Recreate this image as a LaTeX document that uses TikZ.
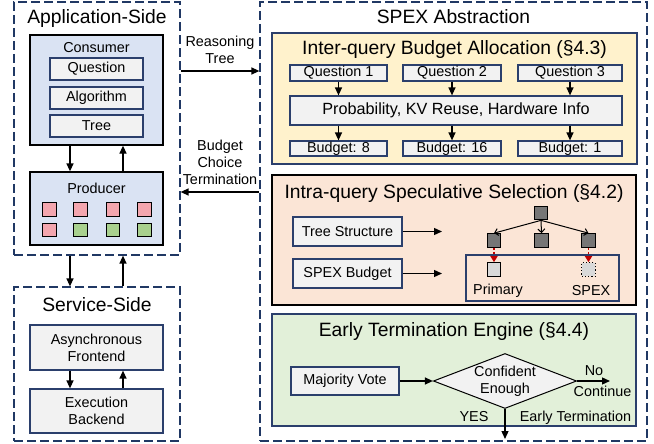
\documentclass[tikz,border=0pt]{standalone}
\usepackage{fontspec}
\setmainfont{Liberation Sans}
\usetikzlibrary{arrows.meta,shapes.geometric}
\definecolor{navyLine}{HTML}{203864}
\definecolor{boxLine}{HTML}{2B3F6C}
\definecolor{blueFill}{HTML}{DAE3F3}
\definecolor{grayFill}{HTML}{F2F2F2}
\definecolor{yellowFill}{HTML}{FFF2CC}
\definecolor{peachFill}{HTML}{FBE5D6}
\definecolor{greenFill}{HTML}{E2F0D9}
\definecolor{pinkSq}{HTML}{F4A6AE}
\definecolor{greenSq}{HTML}{A9D18E}
\definecolor{darkSq}{HTML}{767676}
\definecolor{lightSq}{HTML}{D9D9D9}
\definecolor{redArrow}{HTML}{C00000}

\begin{document}
\begin{tikzpicture}[x=1pt, y=-1pt,
        every node/.style={font=\fontsize{14.4}{16.8}\selectfont, inner sep=0pt}]
        \tikzstyle{groupBox} = [draw=navyLine, line width=1.2, dash pattern=on 9pt off 4pt]
        \tikzstyle{titleText} = [font=\fontsize{19.3}{22}\selectfont, anchor=base]
        \tikzstyle{plainText} = [anchor=base]
        \tikzstyle{outerBox} = [draw=black, line width=1.3, fill=blueFill]
        \tikzstyle{innerBox} = [draw=boxLine, line width=1.2, fill=grayFill, align=center]
        \tikzstyle{cell} = [draw=black, line width=1.2, minimum size=13.5]
        \tikzstyle{arrowEdge} = [draw=black, line width=1.3, -{Triangle[length=8pt,width=7pt]}]
        \tikzstyle{treeEdge} = [draw=black, line width=1, -{Straight Barb[length=3.5pt,width=7pt]}]
        \tikzstyle{specEdge} = [draw=redArrow, line width=1.5, dash pattern=on 2.5pt off 1.5pt, -{Triangle[length=6pt,width=7pt]}]
        \useasboundingbox (0,0) rectangle (654,444);

        % application side
        \node[groupBox, minimum width=166, minimum height=253] (app) at (97,128.5) {};
        \node[titleText] at (97,24) {Application-Side};
        \node[outerBox, minimum width=133, minimum height=110] (cons) at (96.5,90) {};
        \node[plainText] at (96.5,53) {Consumer};
        \node[innerBox, minimum width=93, minimum height=22] (quest) at (96.5,69) {Question};
        \node[innerBox, minimum width=93, minimum height=22] (algo) at (96.5,98) {Algorithm};
        \node[innerBox, minimum width=93, minimum height=22] (tree) at (96.5,126) {Tree};
        \node[outerBox, minimum width=133, minimum height=73] (prod) at (96.5,208.5) {};
        \node[plainText] at (96.5,193) {Producer};
        \foreach \x/\c in {49.5/pinkSq, 80.5/pinkSq, 113/pinkSq, 144.5/pinkSq}
            \node[cell, fill=\c] at (\x,209.5) {};
        \foreach \x/\c in {49.5/pinkSq, 80.5/greenSq, 113/greenSq, 144.5/greenSq}
            \node[cell, fill=\c] at (\x,230) {};
        \draw[arrowEdge] ([xshift=-26.5pt]cons.south) -- ([xshift=-26.5pt]prod.north);
        \draw[arrowEdge] ([xshift=26.5pt]prod.north) -- ([xshift=26.5pt]cons.south);

        % service side
        \node[groupBox, minimum width=166, minimum height=154] (serv) at (97,364) {};
        \node[titleText] at (97,311.5) {Service-Side};
        \node[innerBox, minimum width=133, minimum height=45] (front) at (96.5,347.5) {Asynchronous\\Frontend};
        \node[innerBox, minimum width=133, minimum height=44] (back) at (96.5,411) {Execution\\Backend};
        \draw[arrowEdge] ([xshift=-27pt]app.south) -- ([xshift=-27pt]serv.north);
        \draw[arrowEdge] ([xshift=26pt]serv.north) -- ([xshift=26pt]app.south);
        \draw[arrowEdge] ([xshift=-26.5pt]front.south) -- ([xshift=-26.5pt]back.north);
        \draw[arrowEdge] ([xshift=26.5pt]back.north) -- ([xshift=26.5pt]front.south);

        % spex abstraction
        \node[groupBox, minimum width=387, minimum height=439] (spex) at (453.5,221.5) {};
        \node[titleText] at (453.5,24) {SPEX Abstraction};

        \coordinate (rtLevel) at (0,71);
        \coordinate (bcLevel) at (0,192);
        \node[align=center] at (220,49.5) {Reasoning\\Tree};
        \node[align=center, font=\fontsize{14.4}{17}\selectfont] at (220,162) {Budget\\Choice\\Termination};
        \draw[arrowEdge] (app.east |- rtLevel) -- (spex.west |- rtLevel);
        \draw[arrowEdge] (spex.west |- bcLevel) -- (app.east |- bcLevel);

        % inter-query
        \node[draw=boxLine, line width=1.2, fill=yellowFill, minimum width=365, minimum height=131] (inter) at (454.5,98.5) {};
        \node[titleText] at (454.5,55) {Inter-query Budget Allocation (§4.3)};
        \node[innerBox, minimum width=97, minimum height=16] (q1) at (338.5,73) {Question 1};
        \node[innerBox, minimum width=98, minimum height=16] (q2) at (452,73) {Question 2};
        \node[innerBox, minimum width=104, minimum height=16] (q3) at (570,73) {Question 3};
        \node[innerBox, minimum width=332, minimum height=29, font=\fontsize{16.2}{19}\selectfont] (prob) at (456,110.5) {Probability, KV Reuse, Hardware Info};
        \node[innerBox, minimum width=97, minimum height=15] (b1) at (338.5,148.5) {Budget: 8};
        \node[innerBox, minimum width=98, minimum height=15] (b2) at (452,148.5) {Budget: 16};
        \node[innerBox, minimum width=104, minimum height=15] (b3) at (570,148.5) {Budget: 1};
        \foreach \i in {1,2,3} {
            \draw[arrowEdge] (q\i) -- (q\i |- prob.north);
            \draw[arrowEdge] (q\i |- prob.south) -- (b\i);
        }

        % intra-query
        \node[draw=black, line width=1.3, fill=peachFill, minimum width=364, minimum height=130] (intra) at (454,240) {};
        \node[titleText] at (454,198.3) {Intra-query Speculative Selection (§4.2)};
        \node[innerBox, minimum width=109, minimum height=29] (tstruct) at (347.5,231.5) {Tree Structure};
        \node[innerBox, minimum width=109, minimum height=29] (sbudget) at (347.5,273.5) {SPEX Budget};
        \coordinate (tsEnd) at (442,231.5);
        \coordinate (sbEnd) at (442,273.5);
        \draw[arrowEdge] (tstruct) -- (tsEnd);
        \draw[arrowEdge] (sbudget) -- (sbEnd);
        \node[draw=boxLine, line width=1.2, minimum width=153, minimum height=46] (frame) at (542.5,278) {};
        \node[cell, fill=darkSq] (root) at (541,213) {};
        \node[cell, fill=darkSq] (c1) at (494,240.5) {};
        \node[cell, fill=darkSq] (c2) at (541.5,240.5) {};
        \node[cell, fill=darkSq] (c3) at (588.5,240.5) {};
        \node[cell, fill=lightSq] (p1) at (494,269.5) {};
        \node[cell, fill=lightSq, dotted] (p3) at (588.5,269.5) {};
        \node[plainText] at (498,294) {Primary};
        \node[plainText] at (591,295.5) {SPEX};
        \foreach \to in {c1,c2,c3}
            \draw[treeEdge] (root.south) -- (\to.north);
        \foreach \from/\to in {c1/p1, c3/p3}
            \draw[specEdge] (\from) -- (\to);

        % early termination
        \node[draw=boxLine, line width=1.2, fill=greenFill, minimum width=364, minimum height=112] (early) at (454,370) {};
        \node[titleText] at (454,336.7) {Early Termination Engine (§4.4)};
        \node[innerBox, minimum width=108, minimum height=28] (vote) at (345,381) {Majority Vote};
        \node[diamond, draw=black, line width=1, fill=grayFill, aspect=2.7, minimum height=55, align=center] (conf) at (505,381) {Confident\\Enough};
        \coordinate (contEnd) at (610,381);
        \coordinate (termEnd) at (505,439);
        \draw[arrowEdge] (vote) -- (conf.west);
        \draw[arrowEdge] (conf.east) -- (contEnd);
        \draw[arrowEdge] (conf.south) -- (termEnd);
        \node[plainText] at (594,375) {No};
        \node[plainText] at (602.5,396.7) {Continue};
        \node[plainText] at (474,421.5) {YES};
        \node[plainText] at (575.5,421) {Early Termination};
    \end{tikzpicture}
\end{document}
